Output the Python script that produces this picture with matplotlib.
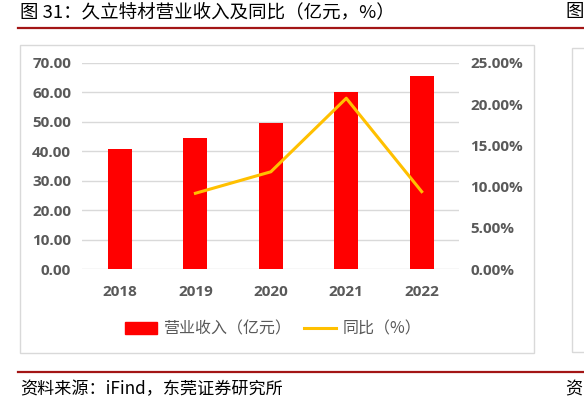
import matplotlib.pyplot as plt
import numpy as np
from matplotlib.patches import Rectangle
from matplotlib.lines import Line2D

plt.rcParams['font.family'] = ['Noto Sans CJK SC', 'DejaVu Sans']

# Data
years = ['2018', '2019', '2020', '2021', '2022']
revenue = [40.7, 44.4, 49.7, 60.0, 65.5]          # 亿元
yoy_years = ['2019', '2020', '2021', '2022']
yoy = [9.2, 11.8, 20.7, 9.4]                       # %

left_ticks = [0, 10, 20, 30, 40, 50, 60, 70]
right_ticks = [0, 5, 10, 15, 20, 25]

title = '图 31：久立特材营业收入及同比（亿元，%）'
source = '资料来源：iFind，东莞证券研究所'
bar_label = '营业收入（亿元）'
line_label = '同比（%）'

RED = '#FF0000'
GOLD = '#FFC000'
GRAY = '#595959'
DARK_RED = '#A31515'


def main():
    fig = plt.figure(figsize=(5.84, 3.99), dpi=100)

    # header / footer decoration
    fig.text(20 / 584, 1 - 12 / 399, title, fontsize=13.3, va='center', ha='left', color='#000000')
    fig.text(565 / 584, 1 - 12 / 399, '图', fontsize=13.3, va='center', ha='left', color='#000000')
    fig.add_artist(Line2D([18 / 584, 1], [1 - 27.5 / 399] * 2, color=DARK_RED, lw=1.6))
    fig.add_artist(Line2D([18 / 584, 1], [1 - 371.5 / 399] * 2, color=DARK_RED, lw=1.6))
    fig.text(20 / 584, 1 - 389 / 399, source, fontsize=12.3, va='center', ha='left', color='#000000')
    fig.text(565 / 584, 1 - 389 / 399, '资', fontsize=12.3, va='center', ha='left', color='#000000')

    # chart frames
    fig.add_artist(Rectangle((20 / 584, 1 - 353 / 399), (534 - 20) / 584, (353 - 45) / 399,
                             fill=False, edgecolor='#D9D9D9', lw=1))
    fig.add_artist(Rectangle((572 / 584, 1 - 352 / 399), 0.1, (352 - 48) / 399,
                             fill=False, edgecolor='#D9D9D9', lw=1))

    ax = fig.add_axes([82.3 / 584, 129.7 / 399, 377.1 / 584, 206.6 / 399])
    x = np.arange(len(years))
    ax.bar(x, revenue, width=0.32, color=RED, zorder=2)
    ax.set_xlim(-0.5, len(years) - 0.5)
    ax.set_ylim(0, 70)
    ax.set_yticks(left_ticks)
    ax.set_yticklabels([f'{v:.2f}' for v in left_ticks])
    ax.set_xticks(x)
    ax.set_xticklabels(years)
    ax.grid(axis='y', color='#D9D9D9', lw=1, zorder=0)
    ax.set_axisbelow(True)
    for s in ax.spines.values():
        s.set_visible(False)
    ax.tick_params(axis='y', length=0, pad=8, labelsize=11, labelcolor=GRAY)
    ax.tick_params(axis='x', length=0, pad=11, labelsize=11, labelcolor=GRAY)

    ax2 = ax.twinx()
    xi = [years.index(y) for y in yoy_years]
    ax2.plot(xi, yoy, color=GOLD, lw=2.2, zorder=3)
    ax2.set_ylim(0, 25)
    ax2.set_yticks(right_ticks)
    ax2.set_yticklabels([f'{v:.2f}%' for v in right_ticks])
    for s in ax2.spines.values():
        s.set_visible(False)
    ax2.tick_params(axis='y', length=0, pad=8, labelsize=11, labelcolor=GRAY)

    for lab in ax.get_xticklabels() + ax.get_yticklabels() + ax2.get_yticklabels():
        lab.set_fontweight('bold')
        lab.set_family(['Open Sans', 'DejaVu Sans'])

    handles = [Rectangle((0, 0), 1, 1, color=RED), Line2D([0], [0], color=GOLD, lw=2.2)]
    fig.legend(handles, [bar_label, line_label], loc='center', bbox_to_anchor=(273 / 584, 1 - 329 / 399),
               ncol=2, frameon=False, fontsize=11.5, labelcolor=GRAY, handlelength=2.0,
               handleheight=0.7, columnspacing=0.8, handletextpad=0.4)

    fig.savefig('out.png', dpi=100)


if __name__ == '__main__':
    main()
